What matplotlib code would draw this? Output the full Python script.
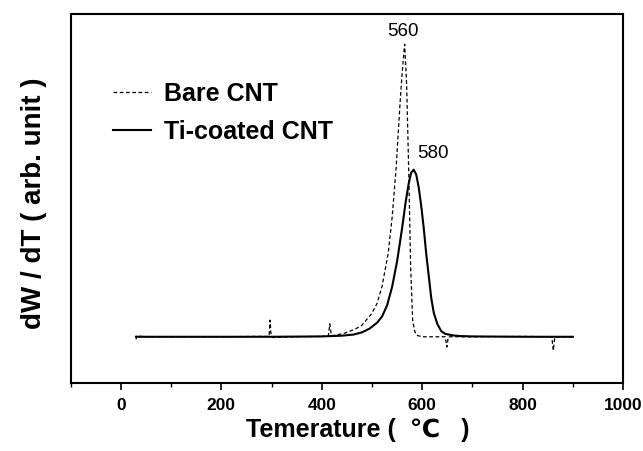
import matplotlib
matplotlib.use("Agg")
import matplotlib.pyplot as plt
from matplotlib.ticker import MultipleLocator

plt.rcParams['font.family'] = ['Liberation Sans', 'DejaVu Sans']

# Bare CNT derivative curve (temperature in C, dW/dT in arb. units)
bare_t = [30, 32, 40, 60, 120, 200, 270, 295, 297, 299, 303, 340, 400, 413, 416, 419,
          430, 446, 465, 479, 499, 510, 520, 532, 540, 548, 552, 556, 560, 565, 569,
          573, 577, 581, 585, 589, 600, 620, 646, 649, 652, 700, 800, 858, 861, 864, 900]
bare_y = [0.118, 0.128, 0.126, 0.125, 0.125, 0.125, 0.126, 0.126, 0.170, 0.128, 0.123,
          0.125, 0.126, 0.127, 0.160, 0.128, 0.130, 0.135, 0.145, 0.155, 0.187, 0.215,
          0.262, 0.349, 0.447, 0.582, 0.672, 0.762, 0.840, 0.918, 0.807, 0.582, 0.313,
          0.169, 0.140, 0.129, 0.125, 0.125, 0.125, 0.097, 0.125, 0.125, 0.126, 0.125,
          0.088, 0.124, 0.125]

# Ti-coated CNT derivative curve
ti_t = [30, 100, 200, 300, 400, 440, 463, 480, 495, 510, 520, 530, 540, 550, 560, 567,
        573, 578, 583, 588, 593, 598, 603, 608, 613, 618, 623, 630, 638, 646, 660, 675,
        700, 800, 900]
ti_y = [0.125, 0.125, 0.125, 0.125, 0.126, 0.128, 0.131, 0.137, 0.147, 0.163, 0.180,
        0.210, 0.260, 0.330, 0.420, 0.490, 0.540, 0.570, 0.578, 0.565, 0.530, 0.480,
        0.420, 0.350, 0.290, 0.230, 0.190, 0.160, 0.140, 0.133, 0.129, 0.127, 0.126,
        0.125, 0.125]

peak_labels = ['560', '580']
peak_pos = [(562, 0.93), (591, 0.60)]

fig = plt.figure(figsize=(6.43, 4.51), dpi=100)
ax = fig.add_axes([0.110, 0.151, 0.859, 0.818])

ax.plot(bare_t, bare_y, color='black', linestyle=(0, (3, 2)), linewidth=0.9,
        label='Bare CNT')
ax.plot(ti_t, ti_y, color='black', linestyle='-', linewidth=1.5,
        label='Ti-coated CNT')

ax.text(peak_pos[0][0], peak_pos[0][1], peak_labels[0], fontsize=13.5,
        ha='center', va='bottom')
ax.text(peak_pos[1][0], peak_pos[1][1], peak_labels[1], fontsize=13.5,
        ha='left', va='bottom')

ax.set_xlim(-100, 1000)
ax.set_ylim(0, 1)
ax.xaxis.set_major_locator(MultipleLocator(200))
ax.xaxis.set_minor_locator(MultipleLocator(100))
ax.set_yticks([])
ax.tick_params(axis='x', which='major', direction='out', length=5, width=1.2, pad=6)
ax.tick_params(axis='x', which='minor', direction='out', length=3, width=1.0)
for lab in ax.get_xticklabels():
    lab.set_fontweight('bold')
    lab.set_fontsize(12.5)
for sp in ax.spines.values():
    sp.set_linewidth(1.5)

ax.set_xlabel('Temerature (  \u2103   )', fontsize=18, fontweight='bold', labelpad=3)
ax.set_ylabel('dW / dT ( arb. unit )', fontsize=20, fontweight='bold', labelpad=12)
ax.xaxis.set_label_coords(0.52, -0.095)
ax.yaxis.set_label_coords(-0.043, 0.488)

leg = ax.legend(loc='upper left', bbox_to_anchor=(0.036, 0.877), frameon=False,
                handlelength=1.5, handletextpad=0.52, labelspacing=0.55,
                borderpad=0.4, prop={'size': 18, 'weight': 'bold'})

fig.savefig('out.png', dpi=100)
